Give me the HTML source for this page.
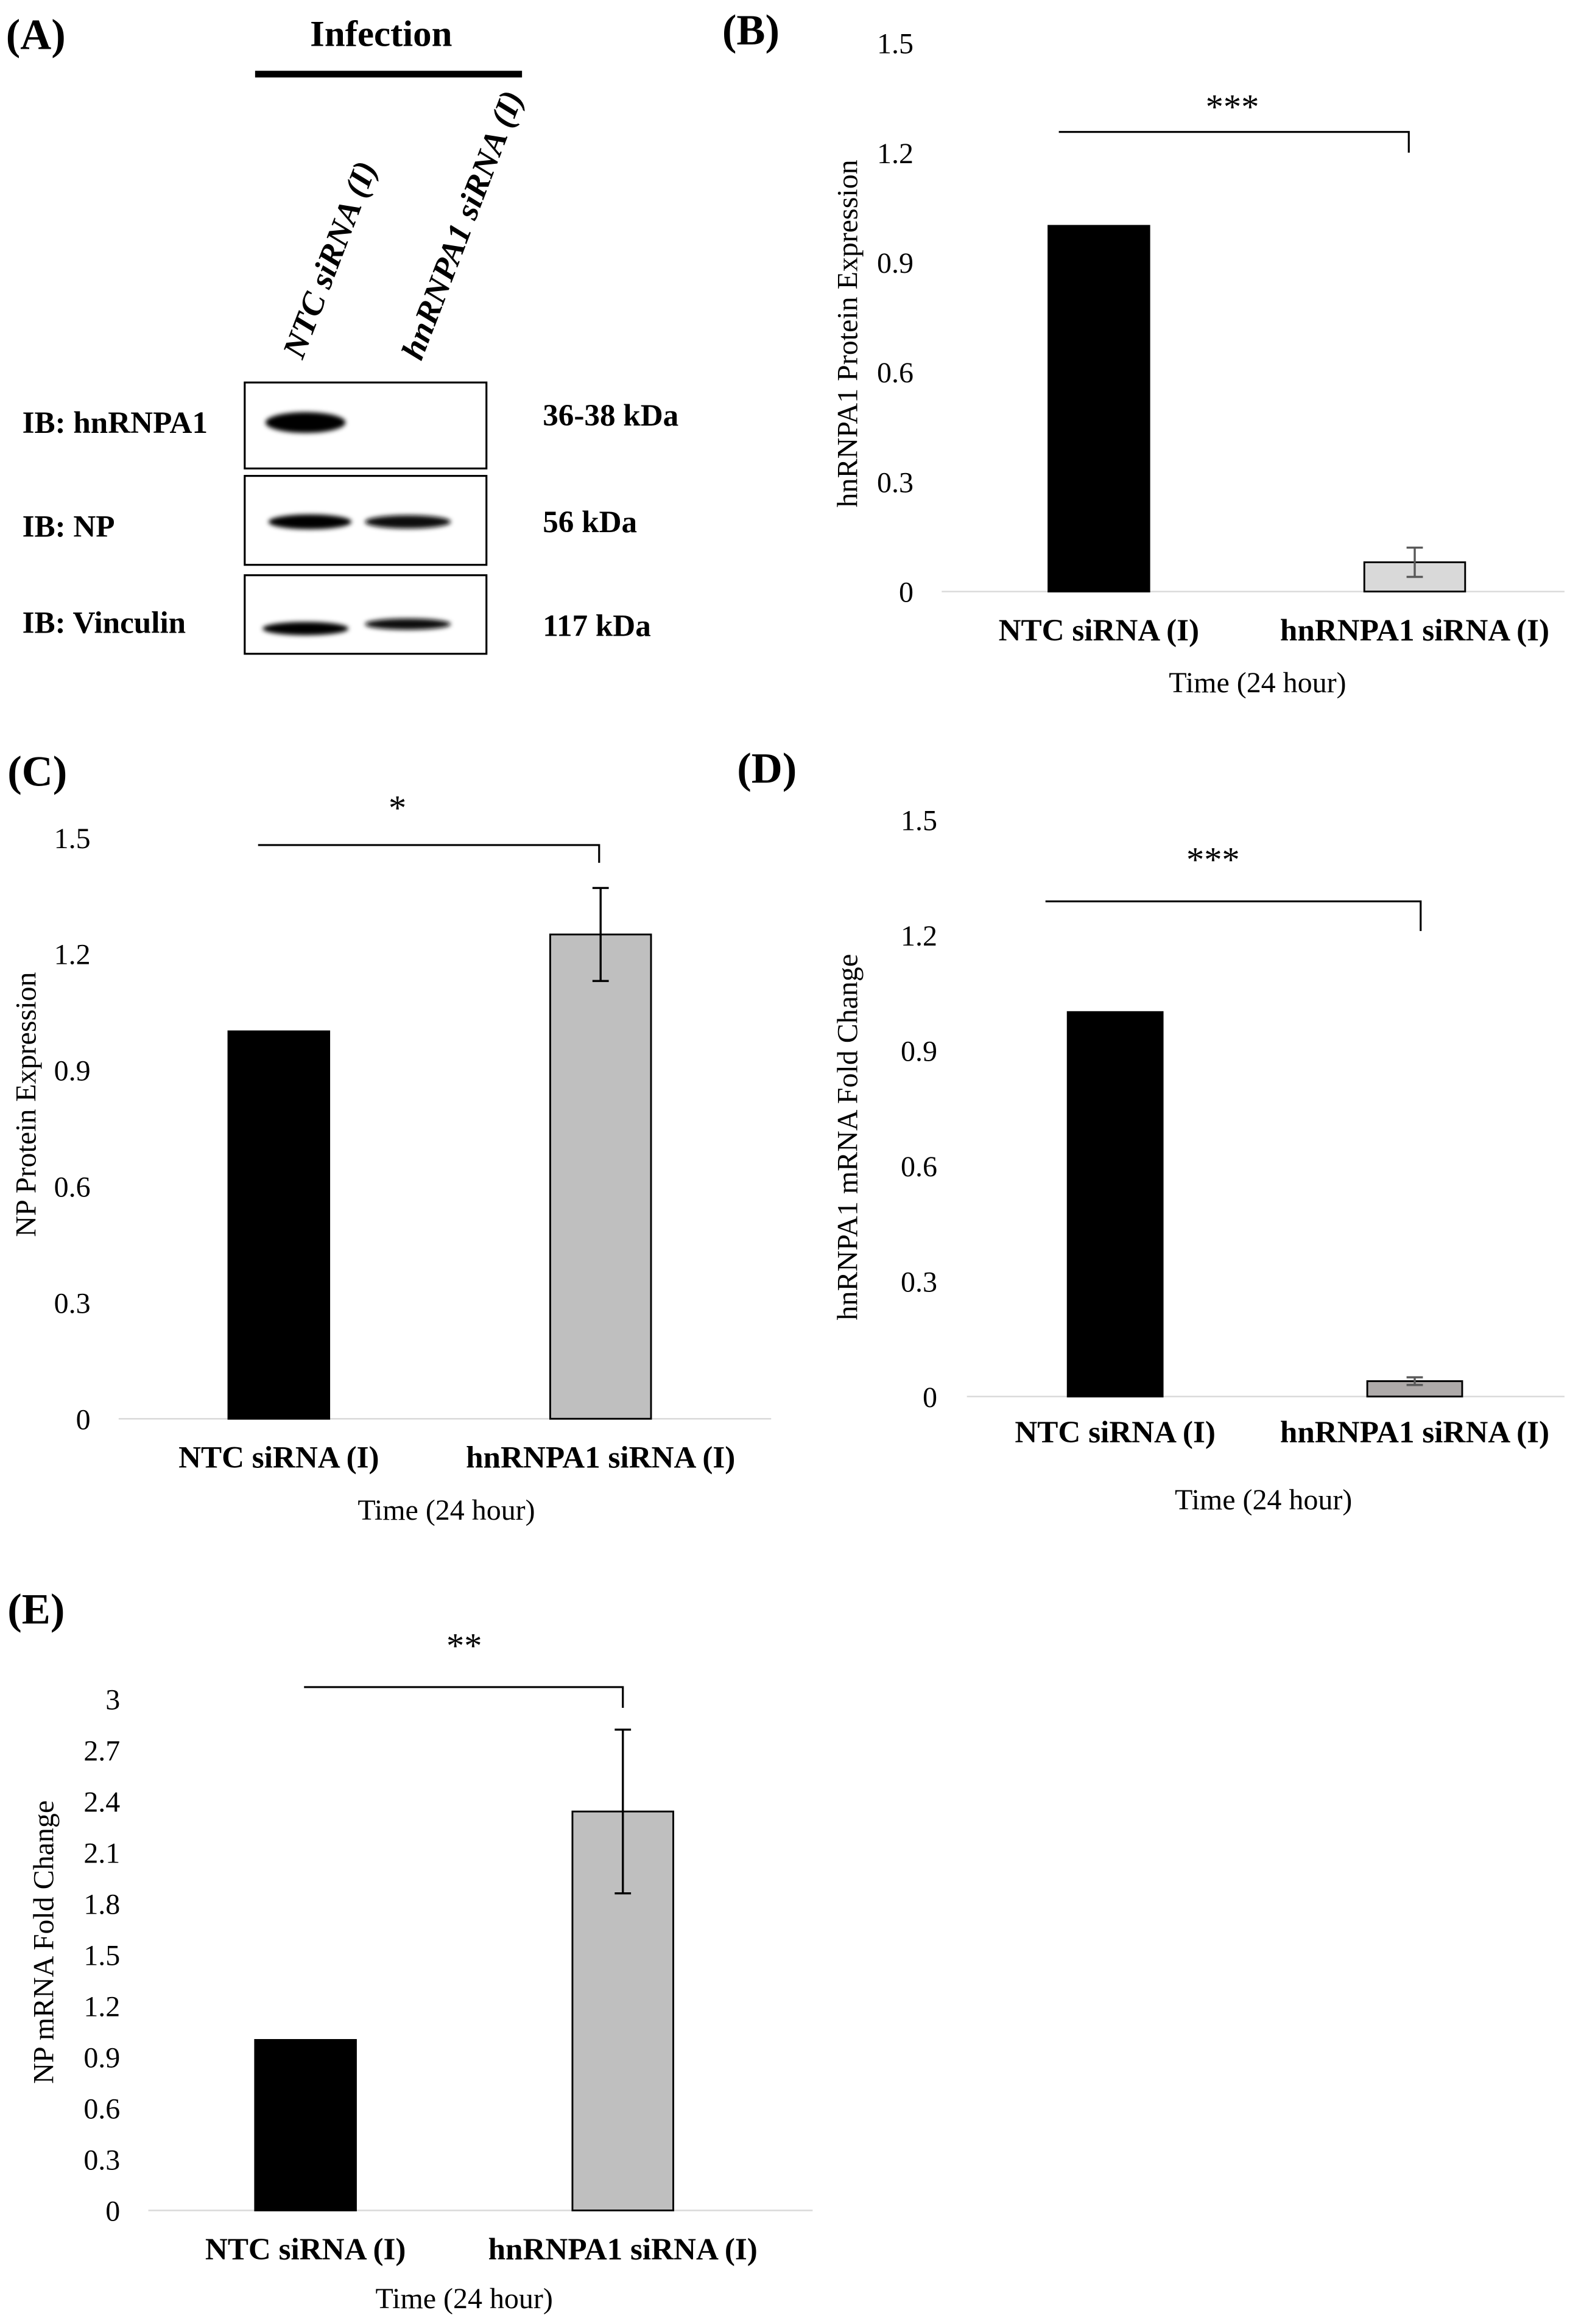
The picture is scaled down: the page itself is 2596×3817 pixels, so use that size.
<!DOCTYPE html>
<html><head><meta charset="utf-8"><style>
html,body{margin:0;padding:0;background:#fff;}
svg{display:block;font-family:"Liberation Serif",serif;}
</style></head><body>
<svg id="fig" width="2596" height="3817" viewBox="0 0 1066.1 1567.6" xmlns="http://www.w3.org/2000/svg">
<defs><filter id="blur" x="-20%" y="-50%" width="140%" height="200%"><feGaussianBlur stdDeviation="1.5"/></filter></defs>
<g>
<text x="4" y="33" font-size="29" font-weight="bold">(A)</text>
<text x="257" y="31" font-size="25" font-weight="bold" text-anchor="middle">Infection</text>
<line x1="172" y1="50" x2="352" y2="50" stroke="#000" stroke-width="4.5"/>
<text transform="translate(204,243) rotate(-69)" font-size="22" font-weight="bold" font-style="italic" textLength="140" lengthAdjust="spacingAndGlyphs">NTC siRNA (I)</text>
<text transform="translate(284,244) rotate(-69)" font-size="22" font-weight="bold" font-style="italic" textLength="192" lengthAdjust="spacingAndGlyphs">hnRNPA1 siRNA (I)</text>
<rect x="165" y="258" width="163" height="58" fill="#fff" stroke="#000" stroke-width="1.3"/>
<rect x="165" y="321" width="163" height="60" fill="#fff" stroke="#000" stroke-width="1.3"/>
<rect x="165" y="388" width="163" height="53" fill="#fff" stroke="#000" stroke-width="1.3"/>
<g filter="url(#blur)">
<ellipse cx="206" cy="285" rx="27" ry="7" fill="#000"/>
<ellipse cx="209" cy="352" rx="28" ry="5" fill="#000"/>
<ellipse cx="275" cy="352" rx="29" ry="4.5" fill="#111"/>
<ellipse cx="206" cy="424" rx="29" ry="4.5" fill="#000"/>
<ellipse cx="275" cy="421" rx="29" ry="3.8" fill="#111"/>
</g>
<g font-size="21" font-weight="bold">
<text x="15" y="292">IB: hnRNPA1</text>
<text x="15" y="362">IB: NP</text>
<text x="15" y="427">IB: Vinculin</text>
<text x="366" y="287">36-38 kDa</text>
<text x="366" y="359">56 kDa</text>
<text x="366" y="429">117 kDa</text>
</g>
</g>
</svg>
<script>
const categories = ["NTC siRNA (I)", "hnRNPA1 siRNA (I)"];
const bValues = [1.0, 0.08];
const bErrors = [0.0, 0.04];
const bTicks = ["0","0.3","0.6","0.9","1.2","1.5"];
const cValues = [1.0, 1.25];
const cErrors = [0.0, 0.12];
const cTicks = ["0","0.3","0.6","0.9","1.2","1.5"];
const dValues = [1.0, 0.04];
const dErrors = [0.0, 0.01];
const dTicks = ["0","0.3","0.6","0.9","1.2","1.5"];
const eValues = [1.0, 2.34];
const eErrors = [0.0, 0.48];
const eTicks = ["0","0.3","0.6","0.9","1.2","1.5","1.8","2.1","2.4","2.7","3"];

const NS = "http://www.w3.org/2000/svg";
const svg = document.getElementById('fig');
function mk(tag, attrs, parent, text) {
  const el = document.createElementNS(NS, tag);
  for (const k in attrs) el.setAttribute(k, attrs[k]);
  if (text !== undefined) el.textContent = text;
  parent.appendChild(el);
  return el;
}
function panel(cfg, values, errors, ticks) {
  const g = mk('g', {}, svg);
  
  
  const max = parseFloat(ticks[ticks.length - 1]);
  const y = v => cfg.y0 - (v / max) * (cfg.y0 - cfg.yTop);
  const lbl = mk('text', {x: cfg.lx, y: cfg.ly, 'font-size': 29, 'font-weight': 'bold'}, g, '(' + cfg.id.toUpperCase() + ')');
  
  
  ticks.forEach(t => {
    const tt = mk('text', {x: cfg.tickX, y: y(parseFloat(t)) + 7, 'font-size': 19.7, 'text-anchor': 'end'}, g, t);
    
    
  });
  const ax = mk('line', {x1: cfg.ax1, x2: cfg.ax2, y1: cfg.y0, y2: cfg.y0, stroke: '#d9d9d9', 'stroke-width': 1}, g);
  
  
  values.forEach((v, i) => {
    const bx = cfg.barX[i];
    const r = mk('rect', {x: bx, y: y(v), width: cfg.barW, height: cfg.y0 - y(v), fill: i === 0 ? '#000' : cfg.fill2, stroke: '#000', 'stroke-width': 1.2}, g);
    
    
    const cx = bx + cfg.barW / 2;
    if (errors[i] > 0) {
      const eg = mk('g', {stroke: cfg.errColor, 'stroke-width': 1.4}, g);
      
      
      mk('line', {x1: cx, x2: cx, y1: y(v + errors[i]), y2: y(v - errors[i])}, eg);
      mk('line', {x1: cx - 5.5, x2: cx + 5.5, y1: y(v + errors[i]), y2: y(v + errors[i])}, eg);
      mk('line', {x1: cx - 5.5, x2: cx + 5.5, y1: y(v - errors[i]), y2: y(v - errors[i])}, eg);
    }
    const xl = mk('text', {x: cx, y: cfg.catY, 'font-size': 21, 'font-weight': 'bold', 'text-anchor': 'middle'}, g, categories[i]);
    
    
  });
  const br = mk('polyline', {points: `${cfg.br[0]},${cfg.br[2]} ${cfg.br[1]},${cfg.br[2]} ${cfg.br[1]},${cfg.br[3]}`, fill: 'none', stroke: '#000', 'stroke-width': 1.3}, g);
  
  
  const st = mk('text', {x: cfg.starX, y: cfg.starY, 'font-size': 24, 'text-anchor': 'middle'}, g, cfg.stars);
  
  
  const xt = mk('text', {x: cfg.timeX, y: cfg.timeY, 'font-size': 19.7, 'text-anchor': 'middle'}, g, 'Time (24 hour)');
  
  
  const yt = mk('text', {transform: `translate(${cfg.ytX},${cfg.ytY}) rotate(-90)`, 'font-size': 19.7, 'text-anchor': 'middle'}, g, cfg.ytitle);
  
  
}
panel({id:'b', lx:487, ly:30, y0:399, yTop:29, tickX:616, ax1:635, ax2:1055, barX:[707,920], barW:68, fill2:'#d9d9d9', errColor:'#595959', catY:432, br:[714,950,89,103], starX:831, starY:80, stars:'***', timeX:848, timeY:467, ytX:578, ytY:225, ytitle:'hnRNPA1 Protein Expression'}, bValues, bErrors, bTicks);
panel({id:'c', lx:5, ly:530, y0:957, yTop:565, tickX:61, ax1:80, ax2:520, barX:[154,371], barW:68, fill2:'#bfbfbf', errColor:'#000', catY:990, br:[174,404,570,582], starX:268, starY:553, stars:'*', timeX:301, timeY:1025, ytX:24, ytY:745, ytitle:'NP Protein Expression'}, cValues, cErrors, cTicks);
panel({id:'d', lx:497, ly:528, y0:942, yTop:553, tickX:632, ax1:652, ax2:1055, barX:[720,922], barW:64, fill2:'#aeaaa9', errColor:'#595959', catY:973, br:[705,958,608,628], starX:818, starY:588, stars:'***', timeX:852, timeY:1018, ytX:578, ytY:767, ytitle:'hnRNPA1 mRNA Fold Change'}, dValues, dErrors, dTicks);
panel({id:'e', lx:5, ly:1095, y0:1491, yTop:1146, tickX:81, ax1:100, ax2:548, barX:[172,386], barW:68, fill2:'#bfbfbf', errColor:'#000', catY:1524, br:[205,420,1138,1152], starX:313, starY:1118, stars:'**', timeX:313, timeY:1557, ytX:36, ytY:1310, ytitle:'NP mRNA Fold Change'}, eValues, eErrors, eTicks);
</script>
</body></html>
